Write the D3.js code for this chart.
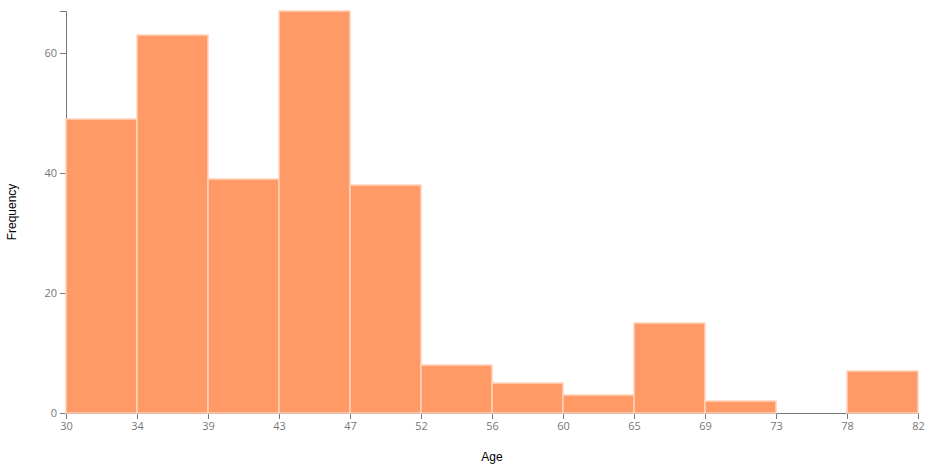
<!DOCTYPE html>
<meta charset="utf-8">
<html>

<head>
    <script src="https://d3js.org/d3.v7.min.js"></script>
    <style>
        body {
            margin: 0;
            background-color: #ffffff;
        }

        .axis text {
            font-family: "Open Sans", sans-serif;
            font-size: 11px;
            fill: #777;
        }

        .axis path,
        .axis line {
            stroke: #777;
        }

        .label {
            font-family: "Liberation Sans", Arial, sans-serif;
            font-size: 12px;
            fill: #000;
        }
    </style>
</head>

<body>
    <div id="hist"></div>

    <script>
        // bin edges as shown on the x axis
        var ageEdges = [30, 34, 39, 43, 47, 52, 56, 60, 65, 69, 73, 78, 82];
        // count per bin
        var frequency = [49, 63, 39, 67, 38, 8, 5, 3, 15, 2, 0, 7];
        var yTicks = [0, 20, 40, 60];

        var margin = { top: 11, right: 12, bottom: 58, left: 66 },
            width = 930 - margin.left - margin.right,
            height = 471 - margin.top - margin.bottom;

        var svg = d3.select("#hist")
            .append("svg")
            .attr("width", width + margin.left + margin.right)
            .attr("height", height + margin.top + margin.bottom)
            .append("g")
            .attr("transform", "translate(" + margin.left + "," + margin.top + ")");

        // bins are equally wide, so place them by index
        var x = d3.scaleLinear()
            .domain([0, frequency.length])
            .range([0, width]);

        var y = d3.scaleLinear()
            .domain([0, d3.max(frequency)])
            .range([height, 0]);

        svg.append("g")
            .attr("class", "axis")
            .attr("transform", "translate(0," + height + ")")
            .call(d3.axisBottom(x)
                .tickValues(d3.range(ageEdges.length))
                .tickFormat(function (i) { return ageEdges[i]; })
                .tickSizeOuter(6));

        svg.append("g")
            .attr("class", "axis")
            .call(d3.axisLeft(y).tickValues(yTicks).tickSizeOuter(6));

        // bars go on top of the axes (the empty bin shows as a line)
        svg.append("g")
            .selectAll("rect")
            .data(frequency)
            .enter()
            .append("rect")
            .attr("x", function (d, i) { return x(i); })
            .attr("y", function (d) { return y(d); })
            .attr("width", function (d, i) { return x(i + 1) - x(i); })
            .attr("height", function (d) { return height - y(d); })
            .style("fill", "#ff9966")
            .style("stroke", "#ffd3bd")
            .style("stroke-width", 1.5);

        svg.append("text")
            .attr("class", "label")
            .attr("text-anchor", "middle")
            .attr("transform", "translate(" + (16 - margin.left) + "," + (height / 2) + ") rotate(-90)")
            .text("Frequency");

        svg.append("text")
            .attr("class", "label")
            .attr("text-anchor", "middle")
            .attr("x", width / 2)
            .attr("y", height + 48)
            .text("Age");
    </script>
</body>

</html>
